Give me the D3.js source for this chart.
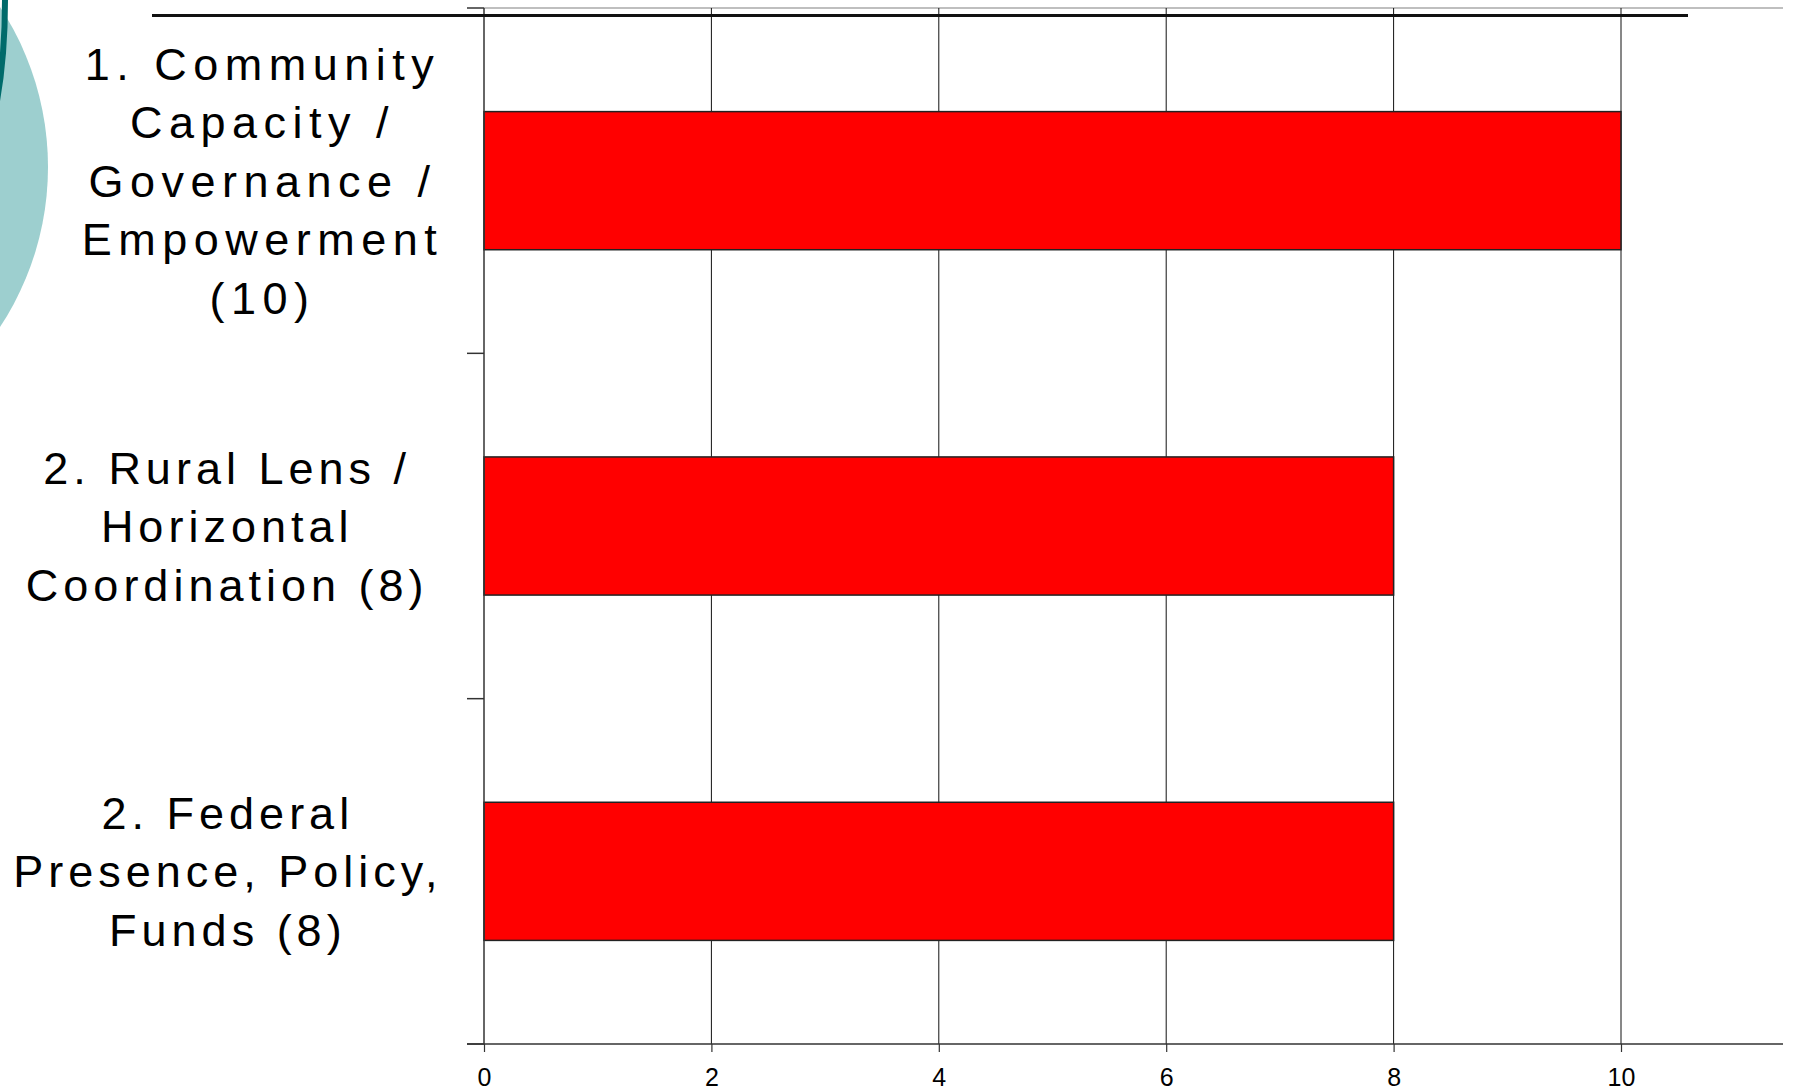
<!DOCTYPE html>
<html>
<head>
<meta charset="utf-8">
<script src="https://cdn.jsdelivr.net/npm/d3@7"></script>
<style>
    body { margin: 0; background: #fff; }
    svg { display: block; font-family: "Liberation Sans", Arial, sans-serif; }
</style>
</head>
<body>
<svg width="1793" height="1092"></svg>
<script>
// chart data
var categories = [
    ['1. Community', 'Capacity /', 'Governance /', 'Empowerment', '(10)'],
    ['2. Rural Lens /', 'Horizontal', 'Coordination (8)'],
    ['2. Federal', 'Presence, Policy,', 'Funds (8)']
];
var values = [10, 8, 8];
var xTicks = [0, 2, 4, 6, 8, 10];

// label styling (spacing and gap to the axis differ per label in the original)
var labelSpacing = [6.5, 5, 5];
var labelGap = [44, 58, 44];

d3.select(window).on('load', init);

function init() {
    var svg = d3.select('svg');
    var margin = {top: 8, right: 10, bottom: 48, left: 484};
    var width = 1793 - margin.left - margin.right;
    var height = 1092 - margin.top - margin.bottom;
    var unit = 113.7;

    // slide decoration on the left
    svg.append('circle')
        .attr('cx', -243).attr('cy', 167).attr('r', 291)
        .attr('fill', '#9dcfcf');
    svg.append('ellipse')
        .attr('cx', -60).attr('cy', 0).attr('rx', 65).attr('ry', 208)
        .attr('fill', 'none')
        .attr('stroke', '#006b6b')
        .attr('stroke-width', 6);

    var g = svg.append('g')
        .attr('transform', 'translate(' + margin.left + ',' + margin.top + ')');

    var xScale = d3.scaleLinear()
        .domain([0, width / unit])
        .range([0, width]);

    var yScale = d3.scaleBand()
        .domain(d3.range(categories.length))
        .range([0, height])
        .paddingInner(0.6)
        .paddingOuter(0.3);

    // plot top border
    g.append('line')
        .attr('x1', 0).attr('x2', width)
        .attr('y1', 0).attr('y2', 0)
        .attr('stroke', '#aaa')
        .attr('stroke-width', 1.5);

    // gridlines
    g.selectAll('.grid')
        .data(xTicks.slice(1))
        .enter()
        .append('line')
        .attr('class', 'grid')
        .attr('x1', function (d) { return xScale(d); })
        .attr('x2', function (d) { return xScale(d); })
        .attr('y1', 0).attr('y2', height)
        .attr('stroke', '#111')
        .attr('stroke-width', 1);

    // bars
    g.selectAll('rect.bar')
        .data(values)
        .enter()
        .append('rect')
        .attr('class', 'bar')
        .attr('x', xScale(0))
        .attr('y', function (d, i) { return yScale(i); })
        .attr('width', function (d) { return xScale(d) - xScale(0); })
        .attr('height', yScale.bandwidth())
        .attr('fill', '#ff0000')
        .attr('stroke', '#222')
        .attr('stroke-width', 1.5);

    // x axis
    var xAxis = g.append('g')
        .attr('transform', 'translate(0,' + height + ')')
        .call(d3.axisBottom(xScale).tickValues(xTicks).tickSize(8).tickPadding(16).tickSizeOuter(0));
    xAxis.select('.domain').remove();
    xAxis.append('line')
        .attr('x1', -17).attr('x2', width)
        .attr('stroke', '#333').attr('stroke-width', 1.5);
    xAxis.selectAll('.tick line').attr('stroke', '#333').attr('stroke-width', 1.2);
    xAxis.selectAll('.tick text')
        .attr('fill', '#000')
        .style('font-size', '25px')
        .style('font-family', '"Liberation Sans", Arial, sans-serif');

    // y axis line and category ticks
    g.append('line')
        .attr('x1', 0).attr('x2', 0)
        .attr('y1', 0).attr('y2', height)
        .attr('stroke', '#333').attr('stroke-width', 1.5);
    var step = yScale.step();
    g.selectAll('.ytick')
        .data(d3.range(categories.length + 1))
        .enter()
        .append('line')
        .attr('class', 'ytick')
        .attr('x1', -17).attr('x2', 0)
        .attr('y1', function (d) { return d * step; })
        .attr('y2', function (d) { return d * step; })
        .attr('stroke', '#333').attr('stroke-width', 1.5);

    // category labels, centred block, right edge near the axis
    var lineH = 58.5;
    categories.forEach(function (lines, i) {
        var label = g.append('text')
            .attr('fill', '#000')
            .style('font-size', '45px')
            .style('letter-spacing', labelSpacing[i] + 'px')
            .attr('text-anchor', 'middle');
        var cy = yScale(i) + yScale.bandwidth() / 2;
        var first = cy + 16 - (lines.length - 1) / 2 * lineH;
        lines.forEach(function (t, j) {
            label.append('tspan')
                .attr('x', 0)
                .attr('y', first + j * lineH)
                .text(t);
        });
        var maxW = d3.max(label.selectAll('tspan').nodes(), function (n) {
            return n.getComputedTextLength();
        });
        var cx = -labelGap[i] - maxW / 2;
        label.selectAll('tspan').attr('x', cx + labelSpacing[i] / 2);
    });

    // slide title rule
    svg.append('line')
        .attr('x1', 152).attr('x2', 1688)
        .attr('y1', 15.5).attr('y2', 15.5)
        .attr('stroke', '#111')
        .attr('stroke-width', 3);
}
</script>
</body>
</html>
